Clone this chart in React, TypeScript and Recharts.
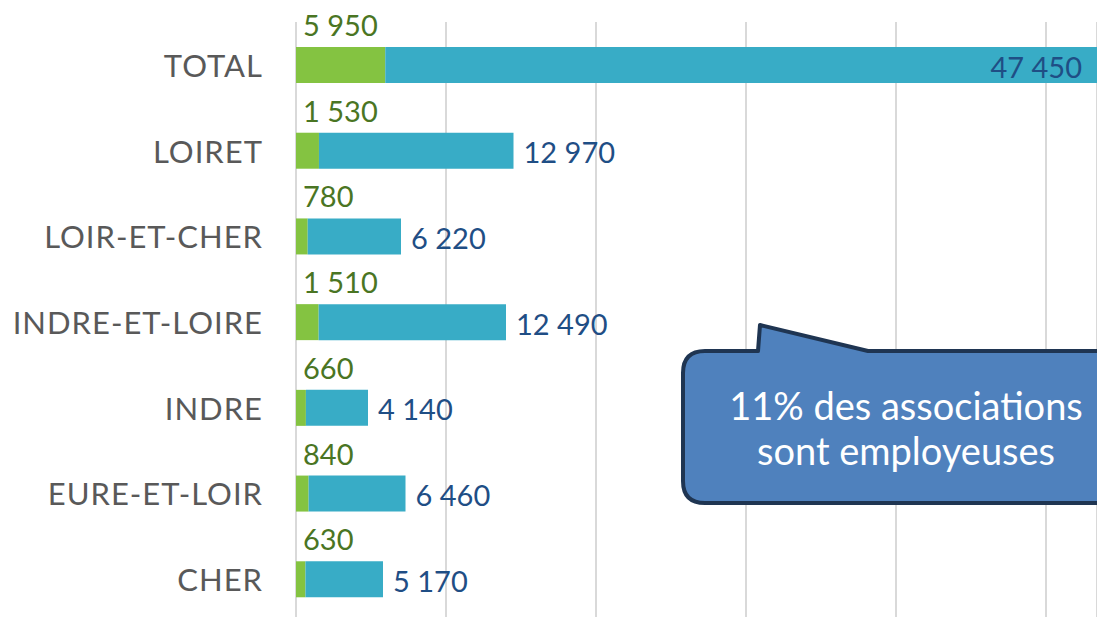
import React from 'react';
import { BarChart, Bar, XAxis, YAxis, CartesianGrid, LabelList } from 'recharts';

const categories = ['TOTAL', 'LOIRET', 'LOIR-ET-CHER', 'INDRE-ET-LOIRE', 'INDRE', 'EURE-ET-LOIR', 'CHER'];
const employeuses = [5950, 1530, 780, 1510, 660, 840, 630];
const nonEmployeuses = [47450, 12970, 6220, 12490, 4140, 6460, 5170];
const xTicks = [0, 10000, 20000, 30000, 40000, 50000];
const calloutLines = ['11% des associations', 'sont employeuses'];

const data = categories.map((name, i) => ({ name, emp: employeuses[i], non: nonEmployeuses[i] }));

const fmt = (v: number) => {
  const s = String(v);
  return s.replace(/\B(?=(\d{3})+(?!\d))/g, ' ');
};

const FONT = 'Lato, "Noto Sans", sans-serif';
const W = 1097;

const GreenLabel = (props: any) => {
  const { x, y, value } = props;
  return (
    <text x={x + 7} y={y - 11} fill="#4a7523" fontSize={29} fontFamily={FONT} textAnchor="start">
      {fmt(value)}
    </text>
  );
};

const BlueLabel = (props: any) => {
  const { x, y, width, height, value } = props;
  const end = x + width;
  const inside = end > W - 100;
  return (
    <text
      x={inside ? end - 15 : end + 10}
      y={y + height / 2 + 1}
      fill="#1f4e85"
      fontSize={29}
      fontFamily={FONT}
      textAnchor={inside ? 'end' : 'start'}
      dominantBaseline="central"
    >
      {fmt(value)}
    </text>
  );
};

const CategoryTick = (props: any) => {
  const { x, y, payload } = props;
  return (
    <text x={x} y={y} fill="#595959" fontSize={31} fontFamily={FONT} textAnchor="end" dominantBaseline="central" letterSpacing={1}>
      {payload.value}
    </text>
  );
};

export default function App() {
  return (
    <div style={{ position: 'absolute', left: 0, top: 0, width: W, height: 617, overflow: 'hidden', background: '#fff' }}>
      <BarChart
        width={W}
        height={630}
        data={data}
        layout="vertical"
        margin={{ top: 22, right: 0, bottom: 8, left: 0 }}
        barSize={36}
      >
        <CartesianGrid horizontal={false} stroke="#d9d9d9" strokeWidth={2} />
        <XAxis type="number" domain={[0, 53400]} ticks={xTicks} hide allowDataOverflow />
        <YAxis
          type="category"
          dataKey="name"
          width={296}
          axisLine={false}
          tickLine={false}
          tick={<CategoryTick />}
          tickMargin={27}
        />
        <Bar dataKey="emp" stackId="a" fill="#84c341" isAnimationActive={false}>
          <LabelList dataKey="emp" content={<GreenLabel />} />
        </Bar>
        <Bar dataKey="non" stackId="a" fill="#38acc6" isAnimationActive={false}>
          <LabelList dataKey="non" content={<BlueLabel />} />
        </Bar>
      </BarChart>
      <svg width={W} height={617} style={{ position: 'absolute', left: 0, top: 0, pointerEvents: 'none' }}>
        <path
          d="M 705 351 L 758 351 L 760 325 L 868 351 L 1130 351 L 1130 503 L 705 503 Q 683 503 683 481 L 683 373 Q 683 351 705 351 Z"
          fill="#4f81bd"
          stroke="#1f3552"
          strokeWidth={4}
          strokeLinejoin="round"
        />
        {calloutLines.map((line, i) => (
          <text key={i} x={906} y={405 + i * 45} fill="#ffffff" fontSize={38} fontFamily={FONT} textAnchor="middle" dominantBaseline="central">
            {line}
          </text>
        ))}
      </svg>
    </div>
  );
}
